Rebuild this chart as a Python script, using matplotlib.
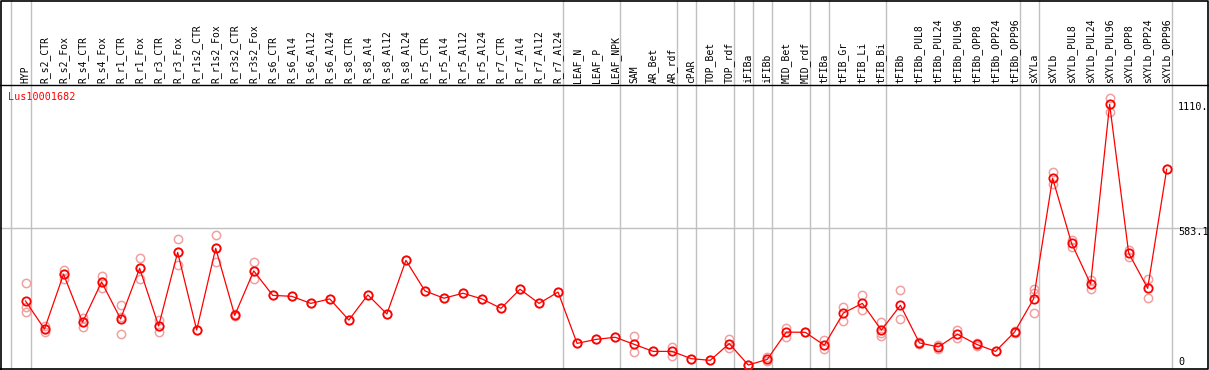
import numpy as np
import matplotlib
matplotlib.use("Agg")
import matplotlib.pyplot as plt

# sample columns
labels = ['HYP', 'R_s2_CTR', 'R_s2_Fox', 'R_s4_CTR', 'R_s4_Fox', 'R_r1_CTR', 'R_r1_Fox',
          'R_r3_CTR', 'R_r3_Fox', 'R_r1s2_CTR', 'R_r1s2_Fox', 'R_r3s2_CTR', 'R_r3s2_Fox',
          'R_s6_CTR', 'R_s6_Al4', 'R_s6_Al12', 'R_s6_Al24', 'R_s8_CTR', 'R_s8_Al4',
          'R_s8_Al12', 'R_s8_Al24', 'R_r5_CTR', 'R_r5_Al4', 'R_r5_Al12', 'R_r5_Al24',
          'R_r7_CTR', 'R_r7_Al4', 'R_r7_Al12', 'R_r7_Al24', 'LEAF_N', 'LEAF_P', 'LEAF_NPK',
          'SAM', 'AR_Bet', 'AR_rdf', 'cPAR', 'TOP_Bet', 'TOP_rdf', 'iFIBa', 'iFIBb',
          'MID_Bet', 'MID_rdf', 'tFIBa', 'tFIB_Gr', 'tFIB_Li', 'tFIB_Bi', 'tFIBb',
          'tFIBb_PUL8', 'tFIBb_PUL24', 'tFIBb_PUL96', 'tFIBb_OPP8', 'tFIBb_OPP24',
          'tFIBb_OPP96', 'sXYLa', 'sXYLb', 'sXYLb_PUL8', 'sXYLb_PUL24', 'sXYLb_PUL96',
          'sXYLb_OPP8', 'sXYLb_OPP24', 'sXYLb_OPP96']

# last column index of each group (separator lines)
group_ends = [-1, 0, 28, 31, 34, 35, 37, 38, 39, 41, 42, 45, 52, 53, 60]

# mean expression
means = [274, 155, 388, 184, 355, 198, 413, 168, 481, 151, 498, 213, 402,
         298, 294, 264, 283, 193, 300, 219, 447, 317, 286, 307, 283,
         243, 324, 264, 312, 94, 111, 120, 90, 60, 60, 29, 22, 93, 2, 26,
         142, 141, 86, 223, 264, 150, 256, 96, 79, 133, 90, 60, 142,
         283, 796, 519, 346, 1110, 478, 328, 834]

# replicate values
reps = [[349, 247, 229], [168, 155, 144], [407, 368, 388], [201, 165, 184],
        [380, 329, 355], [256, 133, 205], [456, 369, 413], [193, 141, 168],
        [536, 426, 481], [151], [555, 440, 498], [218, 209], [440, 366, 402],
        [298], [294], [264], [283], [193], [300], [219], [447], [317], [286],
        [307], [283], [243], [324], [264], [312], [94], [111], [120],
        [125, 59], [60], [80, 42], [29], [22], [114, 73], [2], [37, 20],
        [161, 120], [141], [108, 71], [249, 188], [298, 235], [184, 125, 140],
        [320, 196], [99, 92], [86, 68], [152, 118], [96, 84], [60], [146, 137],
        [325, 222, 310], [822, 771], [533, 505], [363, 325], [1136, 1079],
        [492, 460], [366, 286], [834]]

# pixel layout helpers (column spacing ~19 px, 0 at y=365.5 px)
W, H = 1209, 370
x0, dx = 25.5, 19.02
y0, sy = 365.5, 0.2353

def px_x(p):
    return (p - x0) / dx

def px_y(p):
    return (y0 - p) / sy

fig = plt.figure(figsize=(W / 100, H / 100), dpi=100)
ax = fig.add_axes([0, 0, 1, 1])
ax.set_xlim(px_x(0), px_x(W))
ax.set_ylim(px_y(H), px_y(0))
ax.axis('off')

grey = '#c0c0c0'
# group separators
for e in group_ends:
    ax.axvline(e + 5 / dx, color=grey, lw=1, zorder=1)
# mid grid line
ax.axhline(583.1, color=grey, lw=1, zorder=1)
# header line
ax.axhline(px_y(85), color='black', lw=1, zorder=2)
# outer border
ax.plot([0.0008, 0.0008, 0.9992, 0.9992, 0.0008], [0.002, 0.998, 0.998, 0.002, 0.002],
        color='black', lw=1.2, transform=ax.transAxes, zorder=2, clip_on=False)

mono = 'DejaVu Sans Mono'
for i, lab in enumerate(labels):
    ax.text(i, px_y(83), lab, rotation=90, ha='center', va='bottom',
            fontsize=7, family=mono)

xs = np.arange(len(means))
for i, r in enumerate(reps):
    ax.plot([i] * len(r), r, 'o', ms=6, mfc='none', mec='#f0a0a0', mew=1.1, zorder=3)
ax.plot(xs, means, '-', color='red', lw=0.9, zorder=4)
ax.plot(xs, means, 'o', ms=6, mfc='none', mec='red', mew=1.3, zorder=5)

ax.text(px_x(8), px_y(97), 'Lus10001682', color='red', ha='left', va='center',
        fontsize=7.3, family=mono)

for txt, py in [('1110.', 107), ('583.1', 231.7), ('0', 361.7)]:
    ax.text(px_x(1178), px_y(py), txt, ha='left', va='center', fontsize=7.3, family=mono)

fig.savefig('out.png', dpi=100)
